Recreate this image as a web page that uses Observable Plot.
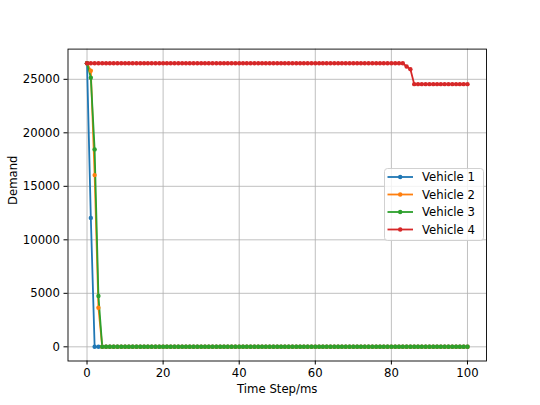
<!DOCTYPE html>
<html><head><meta charset="utf-8">
<script src="https://cdn.jsdelivr.net/npm/d3@7"></script>
<script src="https://cdn.jsdelivr.net/npm/@observablehq/plot@0.6"></script>
<style>body{margin:0;background:#fff}</style>
</head><body><div id="chart"></div>
<script>
const steps = d3.range(0, 101);
const seriesNames = ["Vehicle 1", "Vehicle 2", "Vehicle 3", "Vehicle 4"];
const seriesColors = ["#1f77b4", "#ff7f0e", "#2ca02c", "#d62728"];
const xTicks = [0, 20, 40, 60, 80, 100];
const yTicks = [0, 5000, 10000, 15000, 20000, 25000];

const vehicle1 = [
26500,12050,0,0,0,0,0,0,0,0,
0,0,0,0,0,0,0,0,0,0,
0,0,0,0,0,0,0,0,0,0,
0,0,0,0,0,0,0,0,0,0,
0,0,0,0,0,0,0,0,0,0,
0,0,0,0,0,0,0,0,0,0,
0,0,0,0,0,0,0,0,0,0,
0,0,0,0,0,0,0,0,0,0,
0,0,0,0,0,0,0,0,0,0,
0,0,0,0,0,0,0,0,0,0,
0];
const vehicle2 = [
26500,25800,16050,3650,0,0,0,0,0,0,
0,0,0,0,0,0,0,0,0,0,
0,0,0,0,0,0,0,0,0,0,
0,0,0,0,0,0,0,0,0,0,
0,0,0,0,0,0,0,0,0,0,
0,0,0,0,0,0,0,0,0,0,
0,0,0,0,0,0,0,0,0,0,
0,0,0,0,0,0,0,0,0,0,
0,0,0,0,0,0,0,0,0,0,
0,0,0,0,0,0,0,0,0,0,
0];
const vehicle3 = [
26500,25150,18450,4750,0,0,0,0,0,0,
0,0,0,0,0,0,0,0,0,0,
0,0,0,0,0,0,0,0,0,0,
0,0,0,0,0,0,0,0,0,0,
0,0,0,0,0,0,0,0,0,0,
0,0,0,0,0,0,0,0,0,0,
0,0,0,0,0,0,0,0,0,0,
0,0,0,0,0,0,0,0,0,0,
0,0,0,0,0,0,0,0,0,0,
0,0,0,0,0,0,0,0,0,0,
0];
const vehicle4 = [
26500,26500,26500,26500,26500,26500,26500,26500,26500,26500,
26500,26500,26500,26500,26500,26500,26500,26500,26500,26500,
26500,26500,26500,26500,26500,26500,26500,26500,26500,26500,
26500,26500,26500,26500,26500,26500,26500,26500,26500,26500,
26500,26500,26500,26500,26500,26500,26500,26500,26500,26500,
26500,26500,26500,26500,26500,26500,26500,26500,26500,26500,
26500,26500,26500,26500,26500,26500,26500,26500,26500,26500,
26500,26500,26500,26500,26500,26500,26500,26500,26500,26500,
26500,26500,26500,26500,26200,25950,24550,24550,24550,24550,
24550,24550,24550,24550,24550,24550,24550,24550,24550,24550,
24550];

const allSeries = [vehicle1, vehicle2, vehicle3, vehicle4];
const data = [];
allSeries.forEach((vals, si) => {
  vals.forEach((v, i) => data.push({step: steps[i], demand: v, series: seriesNames[si]}));
});

const W = 540, H = 405;
const mL = 67.5, mR = 54, mT = 48.6, mB = 44.5;

const chart = Plot.plot({
  width: W, height: H,
  marginLeft: mL, marginRight: mR, marginTop: mT, marginBottom: mB,
  style: {fontFamily: "DejaVu Sans", fontSize: "11.7px", background: "#fff", color: "#000"},
  x: {domain: [-5, 105], ticks: xTicks, label: null},
  y: {domain: [-1325, 27825], ticks: yTicks, label: null},
  color: {domain: seriesNames, range: seriesColors},
  marks: [
    Plot.gridX(xTicks, {stroke: "#b0b0b0", strokeOpacity: 1, strokeWidth: 0.8}),
    Plot.gridY(yTicks, {stroke: "#b0b0b0", strokeOpacity: 1, strokeWidth: 0.8}),
    Plot.line(data, {x: "step", y: "demand", z: "series", stroke: "series", strokeWidth: 1.8}),
    Plot.dot(data, {x: "step", y: "demand", fill: "series", r: 2.2, stroke: null}),
    Plot.frame({stroke: "#000", strokeWidth: 0.9}),
    Plot.axisX(xTicks, {tickSize: 4, tickPadding: 4, tickFormat: d => String(d), label: null, fontSize: 11.7}),
    Plot.axisY(yTicks, {tickSize: 4, tickPadding: 4, tickFormat: d => String(d), label: null, fontSize: 11.7}),
    Plot.text(["Time Step/ms"], {frameAnchor: "bottom", dy: 32, fontSize: 11.7, fill: "#000"}),
    Plot.text(["Demand"], {frameAnchor: "left", rotate: -90, dx: -54.5, fontSize: 11.7, fill: "#000"})
  ]
});

document.getElementById("chart").appendChild(chart);

// Legend (inside plot area, matplotlib style)
const svg = d3.select(chart);
const lg = svg.append("g").attr("font-family", "DejaVu Sans").attr("font-size", "11.7px").attr("text-anchor", "start");
lg.append("rect").attr("x", 384.5).attr("y", 168.5).attr("width", 99).attr("height", 72)
  .attr("rx", 3).attr("fill", "#fff").attr("fill-opacity", 0.8).attr("stroke", "#cccccc").attr("stroke-width", 0.9);
const rowY = [177, 194.5, 212, 229.5];
seriesNames.forEach((name, i) => {
  const y = rowY[i];
  lg.append("line").attr("x1", 387.5).attr("x2", 413).attr("y1", y).attr("y2", y)
    .attr("stroke", seriesColors[i]).attr("stroke-width", 1.8);
  lg.append("circle").attr("cx", 400.2).attr("cy", y).attr("r", 2.2).attr("fill", seriesColors[i]);
  lg.append("text").attr("x", 422).attr("y", y).attr("dy", "0.36em").attr("text-anchor", "start").attr("fill", "#000").text(name);
});
</script>
</body></html>
